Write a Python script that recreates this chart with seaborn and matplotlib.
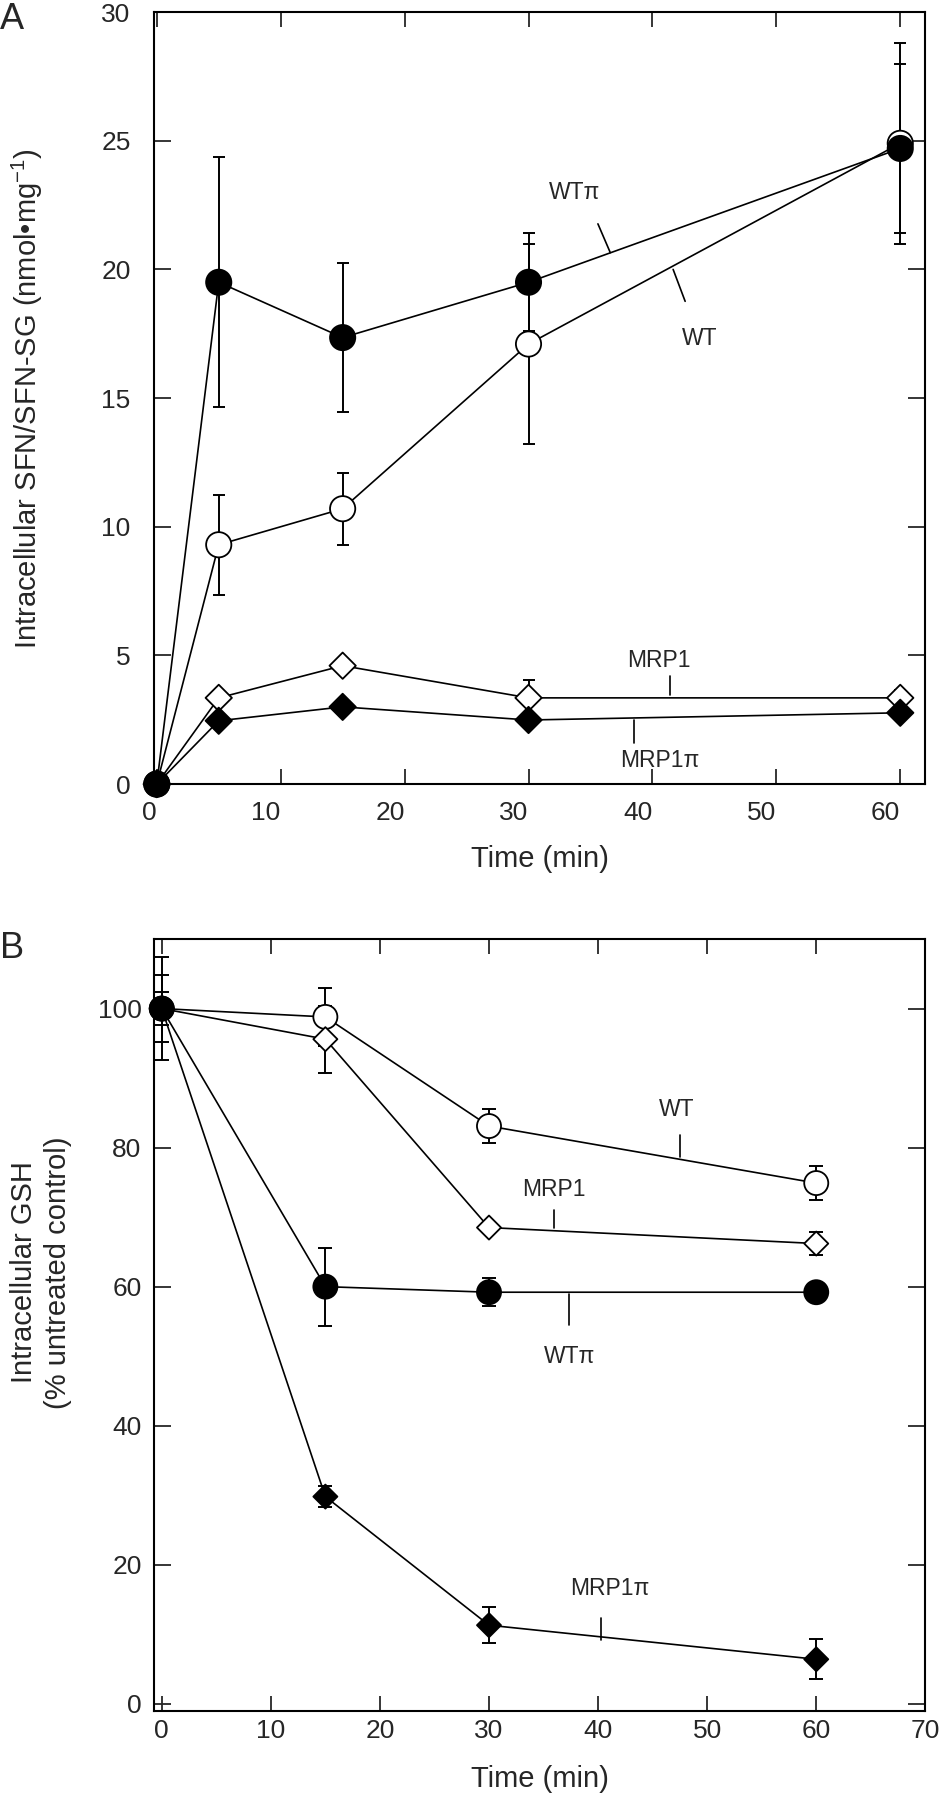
import pandas as pd
import matplotlib
matplotlib.use('Agg')
import matplotlib.pyplot as plt
import seaborn as sns

# ---- data ----
time_a = [0, 5, 15, 30, 60]
wt_a = [0, 9.3, 10.7, 17.1, 24.9]
wt_a_err = [0, 1.95, 1.4, 3.9, 3.9]
wtpi_a = [0, 19.5, 17.35, 19.5, 24.7]
wtpi_a_err = [0, 4.85, 2.9, 1.9, 3.3]
mrp1_a = [0, 3.35, 4.6, 3.35, 3.35]
mrp1_a_err = [0, 0.2, 0.25, 0.7, 0.3]
mrp1pi_a = [0, 2.46, 3.0, 2.49, 2.77]
mrp1pi_a_err = [0, 0.15, 0.15, 0.15, 0.15]

time_b = [0, 15, 30, 60]
wt_b = [100, 98.8, 83.1, 74.9]
wt_b_err = [2.4, 4.2, 2.5, 2.5]
mrp1_b = [100, 95.6, 68.5, 66.2]
mrp1_b_err = [7.4, 4.8, 0.5, 1.7]
wtpi_b = [100, 60.0, 59.2, 59.2]
wtpi_b_err = [4.8, 5.6, 2.0, 0.5]
mrp1pi_b = [100, 29.8, 11.3, 6.4]
mrp1pi_b_err = [1.0, 1.5, 2.6, 2.9]

series_order = ['WT', 'MRP1', 'WTπ', 'MRP1π']
xticks_a = [0, 10, 20, 30, 40, 50, 60]
yticks_a = [0, 5, 10, 15, 20, 25, 30]
xticks_b = [0, 10, 20, 30, 40, 50, 60, 70]
yticks_b = [0, 20, 40, 60, 80, 100]

# label text position, leader line (x0, y0, x1, y1)
labels_a = [('WTπ', 33.7, 23.0, (35.6, 21.77, 36.6, 20.65)),
            ('WT', 43.85, 17.3, (41.67, 20.0, 42.64, 18.76)),
            ('MRP1', 40.5, 4.82, (41.4, 4.2, 41.4, 3.46)),
            ('MRP1π', 40.6, 0.93, (38.5, 2.49, 38.5, 1.58))]
labels_b = [('WT', 47.2, 85.5, (47.55, 81.8, 47.55, 78.7)),
            ('MRP1', 35.96, 74.0, (35.96, 71.0, 35.96, 68.4)),
            ('WTπ', 37.4, 49.9, (37.3, 59.0, 37.3, 54.5)),
            ('MRP1π', 41.1, 16.6, (40.3, 12.3, 40.3, 9.2))]


def make_df(t, vals, errs):
    rows = []
    for name in series_order:
        for x, y, e in zip(t, vals[name], errs[name]):
            rows.append({'series': name, 'time': x, 'value': y, 'err': e})
    return pd.DataFrame(rows)


df_a = make_df(time_a,
               {'WT': wt_a, 'MRP1': mrp1_a, 'WTπ': wtpi_a, 'MRP1π': mrp1pi_a},
               {'WT': wt_a_err, 'MRP1': mrp1_a_err, 'WTπ': wtpi_a_err, 'MRP1π': mrp1pi_a_err})
df_b = make_df(time_b,
               {'WT': wt_b, 'MRP1': mrp1_b, 'WTπ': wtpi_b, 'MRP1π': mrp1pi_b},
               {'WT': wt_b_err, 'MRP1': mrp1_b_err, 'WTπ': wtpi_b_err, 'MRP1π': mrp1pi_b_err})

sns.set_style('ticks')
plt.rcParams['font.family'] = ['Liberation Sans', 'DejaVu Sans']
plt.rcParams['mathtext.fontset'] = 'custom'
plt.rcParams['mathtext.rm'] = 'Liberation Sans'
plt.rcParams['mathtext.it'] = 'Liberation Sans:italic'
plt.rcParams['axes.linewidth'] = 1.5

fills = {'WT': 'white', 'MRP1': 'white', 'WTπ': 'black', 'MRP1π': 'black'}
markers = {'WT': 'o', 'MRP1': 'D', 'WTπ': 'o', 'MRP1π': 'D'}

fig = plt.figure(figsize=(9.42, 18.0), dpi=100)
ax_a = fig.add_axes([0.1638, 0.5644, 0.8182, 0.4289])
ax_b = fig.add_axes([0.1636, 0.0496, 0.8187, 0.4287])


def draw_panel(ax, df, sizes, capsize):
    sns.lineplot(data=df, x='time', y='value', units='series', estimator=None,
                 sort=False, color='black', lw=1.2, ax=ax, zorder=2)
    for name in series_order:
        d = df[df['series'] == name]
        ax.errorbar(d['time'], d['value'], yerr=d['err'], fmt='none', ecolor='black',
                    elinewidth=1.4, capsize=capsize, capthick=1.4, zorder=2.5)
    sns.scatterplot(data=df, x='time', y='value', hue='series', style='series',
                    size='series', sizes=sizes, markers=markers, palette=fills,
                    edgecolor='black', linewidth=1.3, legend=False, ax=ax,
                    zorder=3, clip_on=False)


draw_panel(ax_a, df_a, {'WT': 330, 'WTπ': 330, 'MRP1': 180, 'MRP1π': 180}, 4)
draw_panel(ax_b, df_b, {'WT': 300, 'WTπ': 300, 'MRP1': 150, 'MRP1π': 150}, 5)

for ax, labels in ((ax_a, labels_a), (ax_b, labels_b)):
    for txt, tx, ty, (x0, y0, x1, y1) in labels:
        ax.text(tx, ty, txt, ha='center', va='center', fontsize=16.5)
        ax.plot([x0, x1], [y0, y1], color='black', lw=1.2)

# panel A axes
ax_a.set_xlim(-0.2, 62)
ax_a.set_ylim(0, 30)
ax_a.set_xticks(xticks_a, [str(v) for v in xticks_a])
ax_a.set_yticks(yticks_a, [str(v) for v in yticks_a])
for lab in ax_a.get_xticklabels():
    lab.set_ha('right')
ax_a.tick_params(axis='x', direction='in', length=11, width=1.3, top=True,
                 labelsize=19, pad=12)
ax_a.tick_params(axis='y', direction='in', length=12, width=1.3, right=True,
                 labelsize=19, pad=17)
ax_a.set_xlabel('Time (min)', fontsize=21)
ax_a.set_ylabel('Intracellular SFN/SFN-SG (nmol•mg$^{-1}$)', fontsize=21)
ax_a.xaxis.set_label_coords(0.5, -0.079)
ax_a.yaxis.set_label_coords(-0.142, 0.5)

# panel B axes
ax_b.set_xlim(-0.7, 70)
ax_b.set_ylim(-1, 110)
ax_b.set_xticks(xticks_b, [str(v) for v in xticks_b])
ax_b.set_yticks(yticks_b, [str(v) for v in yticks_b])
ax_b.tick_params(axis='x', direction='in', length=11, width=1.3, top=True,
                 labelsize=19, pad=6)
ax_b.tick_params(axis='y', direction='in', length=12, width=1.3, right=True,
                 labelsize=19, pad=9)
ax_b.set_xlabel('Time (min)', fontsize=21)
ax_b.set_ylabel('Intracellular GSH\n(% untreated control)', fontsize=21, linespacing=1.3)
ax_b.xaxis.set_label_coords(0.5, -0.070)
ax_b.yaxis.set_label_coords(-0.106, 0.568)

for ax in (ax_a, ax_b):
    for sp in ax.spines.values():
        sp.set_visible(True)
        sp.set_linewidth(1.5)
        sp.set_color('black')

fig.text(0.0, 0.999, 'A', fontsize=26, va='top', ha='left')
fig.text(0.0, 0.4828, 'B', fontsize=26, va='top', ha='left')

fig.savefig('out.png', dpi=100)
